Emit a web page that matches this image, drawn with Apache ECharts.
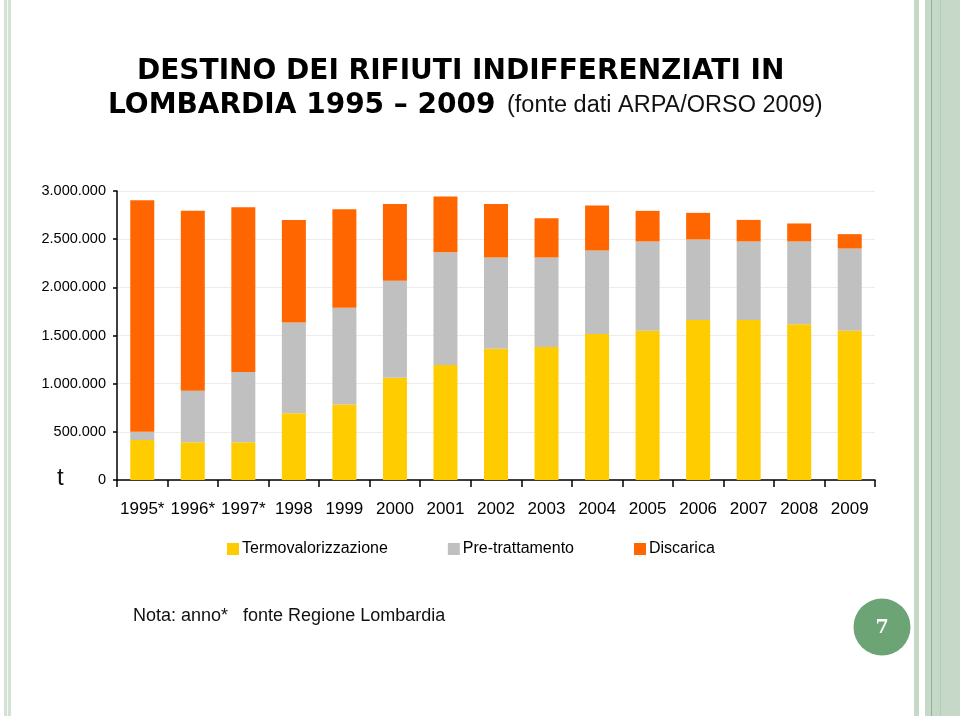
<!DOCTYPE html>
<html>
<head>
<meta charset="utf-8">
<script src="https://cdn.jsdelivr.net/npm/echarts@6/dist/echarts.min.js"></script>
<style>
html,body{margin:0;padding:0;background:#fff;}
#chart{width:960px;height:720px;}
</style>
</head>
<body>
<div id="chart"></div>
<script>
// Data (tonnes)
const years = ['1995*','1996*','1997*','1998','1999','2000','2001','2002','2003','2004','2005','2006','2007','2008','2009'];
const termovalorizzazione = [415000, 391000, 391000, 692000, 785000, 1062000, 1193000, 1362000, 1380000, 1515000, 1549000, 1660000, 1660000, 1618000, 1549000];
const pretrattamento = [86000, 535000, 729000, 944000, 1003000, 1006000, 1172000, 948000, 930000, 867000, 927000, 837000, 816000, 858000, 854000];
const discarica = [2404000, 1868000, 1712000, 1064000, 1023000, 798000, 578000, 556000, 408000, 467000, 318000, 276000, 224000, 187000, 149000];
const seriesNames = ['Termovalorizzazione', 'Pre-trattamento', 'Discarica'];
const colors = ['#FFCC00', '#C0C0C0', '#FF6600'];

const sans = '"Liberation Sans", Arial, sans-serif';

function fmt(v) {
  return String(v).replace(/\B(?=(\d{3})+(?!\d))/g, '.');
}

const chart = echarts.init(document.getElementById('chart'), null, {renderer: 'canvas'});
const option = {
  backgroundColor: '#ffffff',
  animation: false,
  color: colors,
  grid: {left: 117, right: 85, top: 191, bottom: 240, containLabel: false},
  legend: {
    left: 222, top: 536,
    itemWidth: 12, itemHeight: 12, itemGap: 60,
    icon: 'rect',
    textStyle: {fontFamily: sans, fontSize: 16, color: '#000', padding: [0,0,0,-2]},
    data: seriesNames
  },
  xAxis: {
    type: 'category',
    data: years,
    boundaryGap: true,
    axisLine: {lineStyle: {color: '#000', width: 1.5}},
    axisTick: {show: true, alignWithLabel: false, length: 7, lineStyle: {color: '#000', width: 1.5}},
    axisLabel: {fontFamily: sans, fontSize: 17, color: '#000', margin: 21, interval: 0},
    splitLine: {show: false}
  },
  yAxis: {
    type: 'value',
    min: 0, max: 3000000, interval: 500000,
    axisLine: {show: true, lineStyle: {color: '#000', width: 1.5}},
    axisTick: {show: true, length: 4, lineStyle: {color: '#000', width: 1.5}},
    axisLabel: {fontFamily: sans, fontSize: 14.5, color: '#000', margin: 11, formatter: fmt},
    splitLine: {show: true, lineStyle: {color: '#ececec', width: 1}}
  },
  series: [
    {name: seriesNames[0], type: 'bar', stack: 'tot', barWidth: 24, data: termovalorizzazione, itemStyle: {color: colors[0]}},
    {name: seriesNames[1], type: 'bar', stack: 'tot', barWidth: 24, data: pretrattamento, itemStyle: {color: colors[1]}},
    {name: seriesNames[2], type: 'bar', stack: 'tot', barWidth: 24, data: discarica, itemStyle: {color: colors[2]}}
  ],
  graphic: [
    // decorative stripes
    {type: 'rect', shape: {x: 4, y: 0, width: 7, height: 716}, style: {fill: '#d3e2d5'}, silent: true},
    {type: 'rect', shape: {x: 7, y: 0, width: 1, height: 716}, style: {fill: '#f4f8f4'}, silent: true},
    {type: 'rect', shape: {x: 914, y: 0, width: 5, height: 716}, style: {fill: '#c6d8c8'}, silent: true},
    {type: 'rect', shape: {x: 925, y: 0, width: 35, height: 716}, style: {fill: '#c6d8c8'}, silent: true},
    {type: 'rect', shape: {x: 931, y: 0, width: 1, height: 716}, style: {fill: '#8fb495'}, silent: true},
    {type: 'rect', shape: {x: 940, y: 0, width: 1, height: 716}, style: {fill: '#b3ccb6'}, silent: true},
    // title
    {type: 'text', left: 137, top: 58, style: {text: 'DESTINO DEI RIFIUTI INDIFFERENZIATI IN', fontFamily: '"DejaVu Sans", sans-serif', fontWeight: 'bold', fontSize: 28, fill: '#000'}},
    {type: 'text', left: 108, top: 92, style: {text: 'LOMBARDIA 1995 – 2009', fontFamily: '"DejaVu Sans", sans-serif', fontWeight: 'bold', fontSize: 28, fill: '#000'}},
    {type: 'text', left: 507, top: 94, style: {text: '(fonte dati ARPA/ORSO 2009)', fontFamily: sans, fontSize: 23.5, fill: '#111'}},
    // unit
    {type: 'text', left: 57, top: 466, style: {text: 't', fontFamily: sans, fontSize: 24, fill: '#111'}},
    // footnote
    {type: 'text', left: 133, top: 607, style: {text: 'Nota: anno*   fonte Regione Lombardia', fontFamily: sans, fontSize: 18, fill: '#111'}},
    // page number badge
    {type: 'circle', shape: {cx: 882, cy: 627, r: 28.5}, style: {fill: '#6da476'}, silent: true},
    {type: 'text', x: 882, y: 628, style: {text: '7', fontFamily: '"DejaVu Serif", "Liberation Serif", serif', fontWeight: 'bold', fontSize: 19, fill: '#fff', align: 'center', verticalAlign: 'middle'}}
  ]
};
chart.setOption(option);
</script>
</body>
</html>
